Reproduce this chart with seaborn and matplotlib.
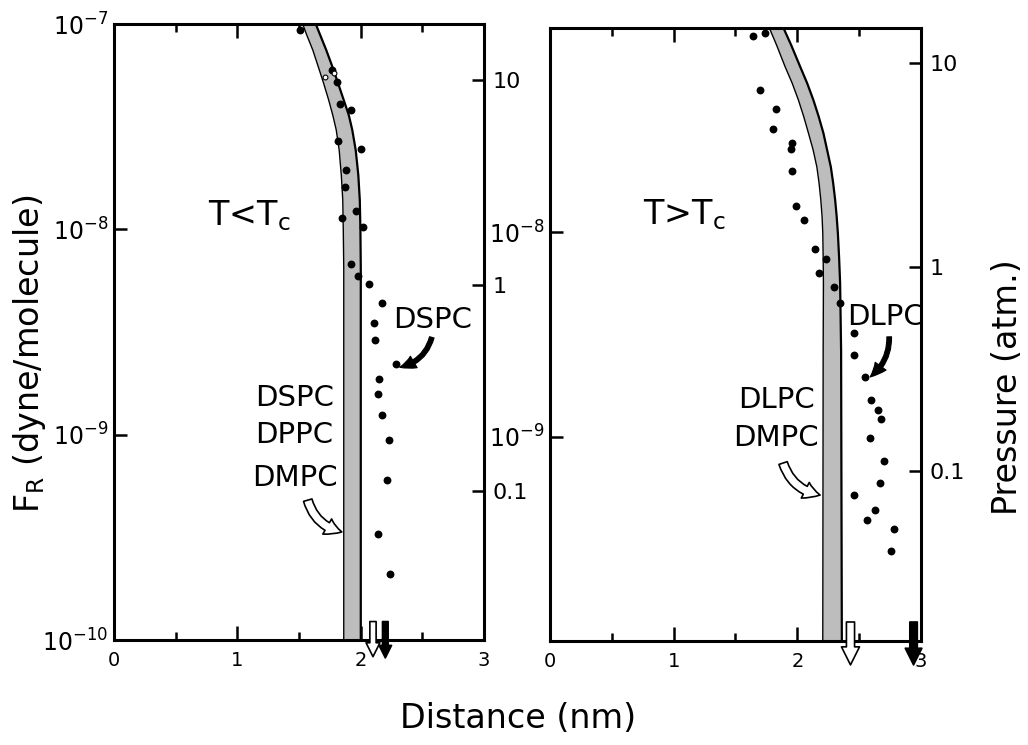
import numpy as np
import pandas as pd
import matplotlib
matplotlib.use("Agg")
import matplotlib.pyplot as plt
from matplotlib.ticker import NullLocator
import seaborn as sns

# ---------------- data ----------------
# Left panel, T < Tc (DSPC points)
left_dist = [1.51, 1.77, 1.81, 1.83, 1.92, 1.82, 2.00, 1.885, 1.87, 1.96, 1.845, 2.02,
             1.925, 1.98, 2.07, 2.17, 2.105, 2.115, 2.285, 2.15, 2.14, 2.17, 2.23,
             2.21, 2.14, 2.24]
left_force = [9.4e-8, 6.0e-8, 5.2e-8, 4.1e-8, 3.8e-8, 2.7e-8, 2.45e-8, 1.95e-8, 1.6e-8,
              1.23e-8, 1.13e-8, 1.03e-8, 6.8e-9, 5.9e-9, 5.4e-9, 4.4e-9, 3.5e-9, 2.9e-9,
              2.2e-9, 1.87e-9, 1.57e-9, 1.25e-9, 9.4e-10, 6.0e-10, 3.3e-10, 2.1e-10]
left_open_dist = [1.71, 1.78]
left_open_force = [5.5e-8, 5.75e-8]

# Right panel, T > Tc (DLPC points)
right_dist = [1.645, 1.74, 1.70, 1.83, 1.80, 1.955, 1.95, 1.96, 1.99, 2.05, 2.14, 2.23,
              2.175, 2.30, 2.345, 2.455, 2.46, 2.55, 2.595, 2.655, 2.68, 2.585, 2.70,
              2.665, 2.46, 2.63, 2.56, 2.78, 2.76]
right_force = [9.1e-8, 9.5e-8, 5.0e-8, 4.0e-8, 3.2e-8, 2.75e-8, 2.55e-8, 2.0e-8, 1.35e-8,
               1.15e-8, 8.3e-9, 7.4e-9, 6.3e-9, 5.4e-9, 4.5e-9, 3.2e-9, 2.5e-9, 1.95e-9,
               1.52e-9, 1.35e-9, 1.22e-9, 9.8e-10, 7.6e-10, 5.9e-10, 5.2e-10, 4.4e-10,
               3.9e-10, 3.55e-10, 2.75e-10]

# Theoretical bands (shaded)
left_band_force = [1.0e-7, 8.84e-8, 7.47e-8, 6.31e-8, 5.21e-8, 4.26e-8, 3.60e-8, 3.05e-8,
                   2.43e-8, 1.84e-8, 1.39e-8, 1.0e-8, 6.5e-9, 4.5e-9, 1.0e-10]
left_band_lo = [1.530, 1.563, 1.612, 1.652, 1.697, 1.741, 1.774, 1.802, 1.826, 1.843,
                1.855, 1.859, 1.863, 1.863, 1.863]
left_band_hi = [1.636, 1.672, 1.721, 1.766, 1.814, 1.863, 1.904, 1.932, 1.960, 1.981,
                1.993, 1.998, 2.001, 2.001, 2.001]

right_band_force = [1.0e-7, 8.26e-8, 6.47e-8, 5.38e-8, 4.44e-8, 3.70e-8, 3.06e-8, 2.53e-8,
                    2.09e-8, 1.74e-8, 1.44e-8, 1.2e-8, 9.9e-9, 7.5e-9, 5.65e-9, 2.65e-9,
                    1.0e-10]
right_band_lo = [1.774, 1.832, 1.901, 1.958, 2.009, 2.051, 2.090, 2.128, 2.158, 2.176,
                 2.190, 2.200, 2.206, 2.209, 2.211, 2.209, 2.206]
right_band_hi = [1.888, 1.950, 2.023, 2.079, 2.130, 2.172, 2.211, 2.241, 2.271, 2.290,
                 2.306, 2.318, 2.328, 2.338, 2.346, 2.354, 2.360]

# arrow markers at bottom (distance)
left_open_arrow, left_black_arrow = 2.10, 2.20
right_open_arrow, right_black_arrow = 2.43, 2.94

x_ticks = [0, 1, 2, 3]
x_minor = [0.5, 1.5, 2.5]
left_yticks = [1e-7, 1e-8, 1e-9, 1e-10]
left_ylabels = ["10$^{-7}$", "10$^{-8}$", "10$^{-9}$", "10$^{-10}$"]
right_yticks = [1e-8, 1e-9]
right_ylabels = ["10$^{-8}$", "10$^{-9}$"]
p_ticks = [0.1, 1, 10]
p_labels = ["0.1", "1", "10"]
# log10(pressure/atm) - log10(force) offsets for the two panels
p_offset_left = 8.273
p_offset_right = 8.17

# ---------------- style ----------------
sns.set_theme(style="ticks")
plt.rcParams["font.family"] = ["DejaVu Sans"]
plt.rcParams["mathtext.fontset"] = "dejavusans"
for key in ["text.color", "axes.labelcolor", "xtick.color", "ytick.color", "axes.edgecolor"]:
    plt.rcParams[key] = "black"

fig = plt.figure(figsize=(10.28, 7.45), dpi=100)
fig.patch.set_facecolor("white")
ax1 = fig.add_axes([0.1109, 0.1409, 0.3599, 0.8268])
ax2 = fig.add_axes([0.5350, 0.1396, 0.3609, 0.8228])

SPINE_W = 2.2


def base_style(ax, yticks, ylabels, p_off):
    ax.set_facecolor("white")
    ax.set_yscale("log")
    ax.set_xlim(0, 3)
    ax.set_ylim(1e-10, 1e-7)
    ax.set_xticks(x_ticks)
    ax.set_xticklabels([str(t) for t in x_ticks])
    ax.set_xticks(x_minor, minor=True)
    ax.set_yticks(yticks)
    ax.set_yticklabels(ylabels)
    ax.yaxis.set_minor_locator(NullLocator())
    for s in ax.spines.values():
        s.set_linewidth(SPINE_W)
        s.set_color("black")
        s.set_visible(True)
    ax.tick_params(axis="x", which="major", direction="in", top=True, bottom=True,
                   length=10, width=1.8, labelsize=14, pad=8, colors="black")
    ax.tick_params(axis="x", which="minor", direction="in", top=True, bottom=True,
                   length=6, width=1.8, colors="black")
    ax.tick_params(axis="y", which="major", direction="in", left=True, right=False,
                   length=9, width=1.8, labelsize=17, pad=4, colors="black")
    ax.set_xlabel("")
    ax.set_ylabel("")
    tw = ax.twinx()
    tw.set_yscale("log")
    tw.set_ylim(10 ** (-10 + p_off), 10 ** (-7 + p_off))
    tw.set_yticks(p_ticks)
    tw.set_yticklabels(p_labels)
    tw.yaxis.set_minor_locator(NullLocator())
    tw.tick_params(axis="y", which="major", direction="in", length=9, width=1.8,
                   labelsize=16, pad=6, colors="black")
    for s in tw.spines.values():
        s.set_visible(False)
    return tw


base_style(ax1, left_yticks, left_ylabels, p_offset_left)
base_style(ax2, right_yticks, right_ylabels, p_offset_right)

band_face = "#bdbdbd"


def draw_band(ax, f, lo, hi):
    ax.fill_betweenx(f, lo, hi, color=band_face, lw=0, zorder=1)
    ax.plot(lo, f, color="black", lw=1.0, zorder=2)
    ax.plot(hi, f, color="black", lw=1.6, zorder=2)


draw_band(ax1, left_band_force, left_band_lo, left_band_hi)
draw_band(ax2, right_band_force, right_band_lo, right_band_hi)

dfl = pd.DataFrame({"Distance": left_dist, "Force": left_force})
dfr = pd.DataFrame({"Distance": right_dist, "Force": right_force})
sns.scatterplot(data=dfl, x="Distance", y="Force", ax=ax1, color="black", s=32,
                linewidth=0, zorder=4, legend=False)
sns.scatterplot(x=left_open_dist, y=left_open_force, ax=ax1, facecolor="white",
                edgecolor="black", s=12, linewidth=0.8, zorder=4, legend=False)
sns.scatterplot(data=dfr, x="Distance", y="Force", ax=ax2, color="black", s=32,
                linewidth=0, zorder=4, legend=False)
ax1.set_xlabel(""); ax1.set_ylabel("")
ax2.set_xlabel(""); ax2.set_ylabel("")

# ---------------- texts ----------------
TXT = 21
ax1.text(1.10, 1.17e-8, "T<T$_\\mathrm{c}$", fontsize=24, ha="center", va="center")
ax2.text(1.09, 1.22e-8, "T>T$_\\mathrm{c}$", fontsize=24, ha="center", va="center")

ax1.text(2.26, 3.6e-9, "DSPC", fontsize=TXT, ha="left", va="center", zorder=5)
for lbl, fy in zip(["DSPC", "DPPC", "DMPC"], [1.51e-9, 9.95e-10, 6.15e-10]):
    ax1.text(1.465, fy, lbl, fontsize=TXT, ha="center", va="center")

ax2.text(2.40, 3.85e-9, "DLPC", fontsize=TXT, ha="left", va="center", zorder=5)
for lbl, fy in zip(["DLPC", "DMPC"], [1.51e-9, 9.85e-10]):
    ax2.text(1.83, fy, lbl, fontsize=TXT, ha="center", va="center")

# curved black arrows pointing to data sets
black_curve = dict(arrowstyle="simple,head_length=0.9,head_width=0.8,tail_width=0.28",
                   fc="black", ec="black", lw=0.8, mutation_scale=12,
                   shrinkA=0, shrinkB=0)
ax1.annotate("", xy=(2.317, 2.13e-9), xytext=(2.577, 2.98e-9),
             arrowprops=dict(black_curve, connectionstyle="arc3,rad=-0.3"), zorder=6)
ax2.annotate("", xy=(2.589, 1.96e-9), xytext=(2.743, 3.08e-9),
             arrowprops=dict(black_curve, connectionstyle="arc3,rad=-0.25"), zorder=6)

# hollow curved arrows pointing to bands
hollow_curve = dict(arrowstyle="simple,head_length=0.8,head_width=0.9,tail_width=0.45",
                    fc="white", ec="black", lw=1.2, mutation_scale=14,
                    shrinkA=0, shrinkB=0)
ax1.annotate("", xy=(1.847, 3.36e-10), xytext=(1.571, 4.8e-10),
             arrowprops=dict(hollow_curve, connectionstyle="arc3,rad=0.3"), zorder=6)
ax2.annotate("", xy=(2.184, 5.18e-10), xytext=(1.885, 7.43e-10),
             arrowprops=dict(hollow_curve, connectionstyle="arc3,rad=0.3"), zorder=6)


# vertical arrows crossing the distance axis
def vert_arrow(ax, x, y0, y1, filled, scale):
    props = dict(arrowstyle="simple,head_length=1.0,head_width=1.0,tail_width=0.45",
                 fc="black" if filled else "white", ec="black", lw=1.2,
                 mutation_scale=scale, shrinkA=0, shrinkB=0)
    ax.annotate("", xy=(x, y1), xytext=(x, y0), xycoords=ax.get_xaxis_transform(),
                textcoords=ax.get_xaxis_transform(), arrowprops=props,
                annotation_clip=False, zorder=7)


vert_arrow(ax1, left_open_arrow, 0.03, -0.027, False, 10)
vert_arrow(ax1, left_black_arrow, 0.03, -0.029, True, 9)
vert_arrow(ax2, right_open_arrow, 0.031, -0.039, False, 13)
vert_arrow(ax2, right_black_arrow, 0.031, -0.039, True, 12)

# ---------------- axis titles ----------------
fig.text(0.504, 0.036, "Distance (nm)", fontsize=24, ha="center", va="center")
fig.text(0.029, 0.525, "F$_\\mathrm{R}$ (dyne/molecule)", fontsize=24, ha="center",
         va="center", rotation=90)
fig.text(0.98, 0.48, "Pressure (atm.)", fontsize=24, ha="center", va="center",
         rotation=90)

fig.savefig("out.png", dpi=100, facecolor="white")
